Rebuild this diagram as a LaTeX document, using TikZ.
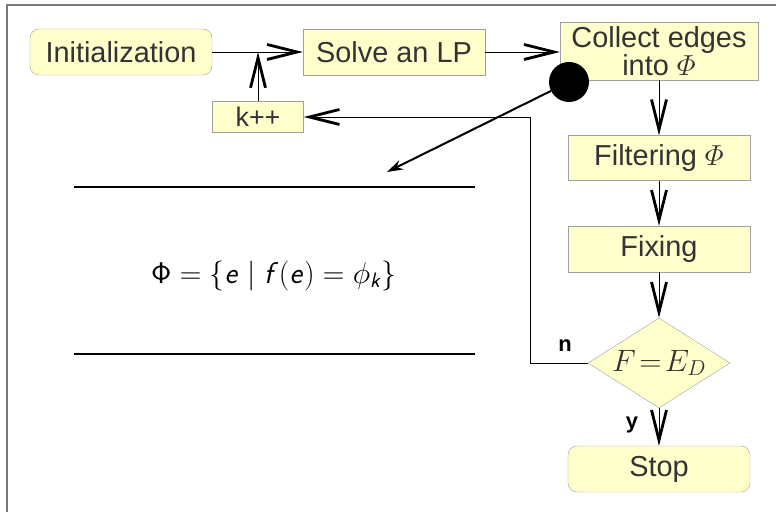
\RequirePackage{fix-cm}
\documentclass[tikz,border=0pt]{standalone}
\usepackage{fontspec}
\usepackage{amsmath,amssymb}
\usetikzlibrary{arrows.meta,positioning,shapes.geometric}
\newfontfamily\boxfont{Liberation Sans}
\DeclareMathAlphabet{\mathsfup}{OT1}{cmss}{m}{n}
\DeclareMathAlphabet{\mathsfit}{OT1}{cmss}{m}{sl}
\definecolor{flowfill}{RGB}{255,255,204}
\definecolor{flowedge}{RGB}{160,160,160}
\definecolor{flowtext}{RGB}{51,51,51}
\definecolor{framegray}{RGB}{120,120,120}
\tikzset{
  stepbox/.style={draw=flowedge,fill=flowfill,text=flowtext,font=\boxfont\fontsize{29}{26}\selectfont,
    minimum width=182bp,minimum height=46bp,inner sep=0pt,align=center},
  endbox/.style={stepbox,rounded corners=9bp},
  testbox/.style={diamond,draw=flowedge,fill=flowfill,text=flowtext,aspect=1.6,
    minimum width=142bp,minimum height=90bp,inner sep=0pt,font=\fontsize{31}{34}\selectfont},
  flow/.style={draw=black,line width=0.9bp,-{Straight Barb[length=30bp,width=15bp,line width=2.8bp]}},
  branch/.style={font=\boxfont\bfseries\fontsize{22}{24}\selectfont},
}
\newcommand{\phiset}{$\mathsfup{\Phi}=\{\mathsfit{e}\mid\mathsfit{f}(\mathsfit{e})=\phi_{\mathsfit{k}}\}$}

\begin{document}
\begin{tikzpicture}[x=1bp,y=-1bp]
	\useasboundingbox (0,0) rectangle (776,512);
	\draw[framegray,line width=2bp] (6.5,512) -- (6.5,5.5) -- (776,5.5);
	% flow chart
	\node[endbox] (init) at (121,52) {Initialization};
	\node[stepbox] (solve) at (394,52) {Solve an LP};
	\node[stepbox,minimum width=198bp,minimum height=58bp] (collect) at (659,51) {Collect edges\\into $\varPhi$};
	\node[stepbox,minimum height=45bp] (filter) at (659,158) {Filtering $\varPhi$};
	\node[stepbox] (fixing) at (659,249) {Fixing};
	\node[testbox] (decide) at (659,363) {$F\!=\!E_D$};
	\node[endbox] (stop) at (659,469) {Stop};
	\node[stepbox,minimum width=91bp,minimum height=31bp,font=\boxfont\fontsize{27}{26}\selectfont] (kpp) at (258,117) {k++};
	\coordinate (loopturn) at (530,117);
	\draw[flow] (init) -- (solve);
	\draw[flow] (kpp.north) -- (kpp.north |- init.east);
	\draw[flow] (solve) -- (collect.west |- solve.east);
	\draw[flow] (collect) -- (filter);
	\draw[flow] (filter) -- (fixing);
	\draw[flow] (fixing) -- (decide);
	\draw[flow] (decide) -- (stop);
	\draw[flow] (decide.west) -| (loopturn) -- (kpp.east);
	\node[branch] (nolabel) at (565,346) {n};
	\node[branch] (yeslabel) at (632,425) {y};
	% definition of Phi
	\node[circle,fill=black,minimum size=40bp,inner sep=0pt] (hub) at (569,82) {};
	\coordinate (phitip) at (387,172);
	\draw[line width=2bp,-{Stealth[length=16bp,width=10bp]}] (hub) -- (phitip);
	\draw[line width=2bp] (74,187) -- (475,187);
	\draw[line width=2bp] (74,354) -- (475,354);
	\node[font=\fontsize{30}{36}\selectfont] (phidef) at (274,276) {\phiset};
\end{tikzpicture}
\end{document}
